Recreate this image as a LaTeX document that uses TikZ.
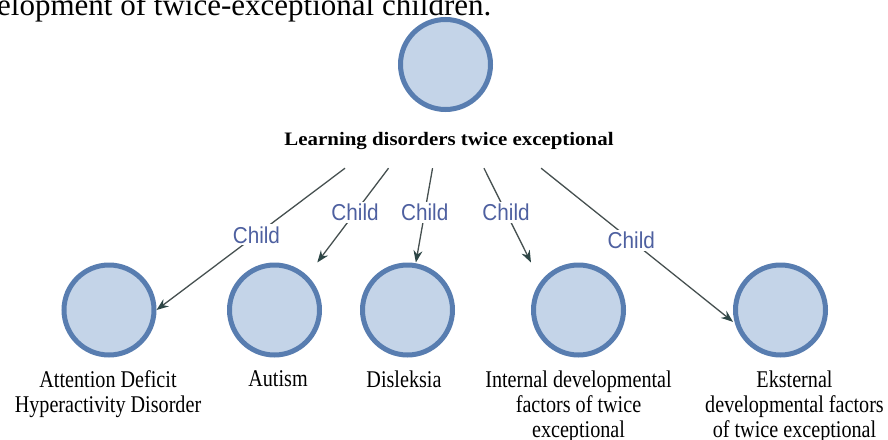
\documentclass[tikz,border=0pt]{standalone}
\usepackage{fontspec}
\setmainfont{Liberation Serif}
\newfontfamily\conceptfont[FakeStretch=0.84]{Liberation Serif}
\newfontfamily\rootfont[FakeStretch=1.1]{Liberation Serif}
\newfontfamily\tagfont[FakeStretch=0.9]{Liberation Sans}
\usepackage{tikz}
\usetikzlibrary{arrows.meta,positioning}
\usepackage{xcolor}
\definecolor{ogring}{RGB}{88,125,176}
\definecolor{ogfill}{RGB}{196,212,232}
\definecolor{ogedge}{RGB}{70,80,80}
\definecolor{ogtip}{RGB}{45,70,70}
\definecolor{ogtag}{RGB}{78,96,160}
\tikzstyle{concept} = [rectangle, rounded corners=45pt, minimum size=90pt, inner sep=0pt, draw=ogring, fill=ogfill, line width=5pt]
\tikzstyle{conceptname} = [anchor=north, inner sep=0pt, align=center, font=\conceptfont\fontsize{24}{25}\selectfont]
\tikzstyle{childarrow} = [line width=1.3pt, draw=ogedge, -{Stealth[length=12pt,width=9pt,color=ogtip]}]
\tikzstyle{childtag} = [pos=.47, fill=white, inner sep=2pt, text=ogtag, font=\tagfont\fontsize{23}{25}\selectfont]

\begin{document}
\begin{tikzpicture}[x=1pt, y=-1pt]
\useasboundingbox (0,0) rectangle (888,439);
% Text line above the graph
\node (bodytext) [anchor=base west, inner sep=0pt, font=\fontsize{31}{36}\selectfont] at (-3,15) {elopment of twice-exceptional children.};

% Root concept
\node (learnbox) [minimum width=340pt, minimum height=152pt, inner sep=0pt] at (446,92) {};
\node (learn) [concept] at (445.5,64.5) {};
\node (learnname) [anchor=base, inner sep=0pt, font=\rootfont\bfseries\fontsize{19}{22}\selectfont] at (449,145) {Learning disorders twice exceptional};

% Child concepts
\node (adhd) [concept] at (109,310) {};
\node (autism) [concept] at (274.5,310) {};
\node (disleksia) [concept] at (407.5,310) {};
\node (internal) [concept] at (578.5,310) {};
\node (eksternal) [concept] at (780.5,310) {};

\node (adhdname) [conceptname, below=13pt of adhd, xshift=-1pt] {Attention Deficit\\Hyperactivity Disorder};
\node (autismname) [conceptname, below=13pt of autism, xshift=3.5pt] {Autism};
\node (disleksianame) [conceptname, below=13pt of disleksia, xshift=-3.5pt] {Disleksia};
\node (internalname) [conceptname, below=13pt of internal] {Internal developmental\\factors of twice\\exceptional};
\node (eksternalname) [conceptname, below=13pt of eksternal, xshift=14pt] {Eksternal\\developmental factors\\of twice exceptional};

% Child links
\draw[childarrow] (learnbox) -- (adhd.east) node[childtag] {Child};
\draw[childarrow] (learnbox) -- (autism.48) node[childtag] {Child};
\draw[childarrow] (learnbox) -- (disleksia.80) node[childtag] {Child};
\draw[childarrow] (learnbox) -- (internal.135) node[childtag] {Child};
\draw[childarrow] (learnbox) -- (eksternal.194) node[childtag] {Child};
\end{tikzpicture}
\end{document}
